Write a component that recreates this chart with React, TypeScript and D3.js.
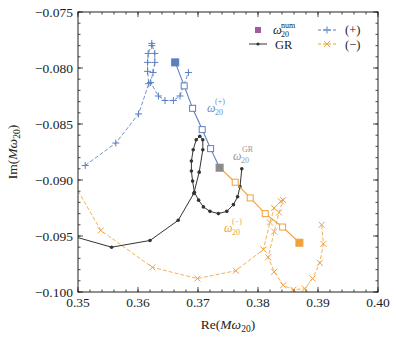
import * as d3 from 'd3';

// axes
const reDomain = [0.35, 0.4];
const imDomain = [-0.1, -0.075];
const xTicks = [0.35, 0.36, 0.37, 0.38, 0.39, 0.4];
const yTicks = [-0.1, -0.095, -0.09, -0.085, -0.08, -0.075];

// GR spiral
const grRe = [0.3497, 0.3556, 0.362, 0.3667, 0.3693, 0.3702, 0.3708, 0.3708, 0.3703, 0.3697, 0.3692, 0.3689, 0.3689, 0.3691, 0.3694, 0.3701, 0.3709, 0.372, 0.3734, 0.3748, 0.3759, 0.3766, 0.377, 0.3773];
const grIm = [-0.0951, -0.096, -0.0954, -0.0936, -0.0912, -0.0893, -0.0873, -0.0864, -0.0861, -0.0864, -0.0873, -0.0883, -0.0892, -0.0901, -0.0911, -0.0918, -0.0924, -0.0928, -0.093, -0.0928, -0.0922, -0.0915, -0.0906, -0.089];

// (+) branch
const plusRe = [0.3512, 0.3563, 0.3601, 0.3618, 0.3616, 0.3616, 0.3617, 0.3623, 0.3623, 0.3628, 0.3628, 0.3625, 0.3621, 0.3634, 0.3645, 0.3659, 0.367, 0.3684];
const plusIm = [-0.0887, -0.0867, -0.0841, -0.0814, -0.0803, -0.0795, -0.0787, -0.078, -0.0778, -0.0787, -0.0795, -0.0804, -0.0813, -0.0825, -0.0829, -0.0829, -0.0825, -0.0804];

// (-) branch
const minusRe = [0.3495, 0.3538, 0.3624, 0.3699, 0.3763, 0.3809, 0.382, 0.3827, 0.3838, 0.3842, 0.3835, 0.3827, 0.3817, 0.3827, 0.3842, 0.3859, 0.3878, 0.3891, 0.3903, 0.3909, 0.3906];
const minusIm = [-0.0905, -0.0945, -0.0978, -0.0988, -0.0981, -0.0962, -0.0938, -0.0925, -0.0919, -0.0918, -0.0929, -0.0946, -0.0969, -0.0982, -0.0994, -0.0998, -0.0997, -0.0988, -0.0974, -0.0957, -0.094];

// interpolated omega_20 between num(+) -> GR -> num(-)
const omPlusRe = [0.3662, 0.3677, 0.3691, 0.3707, 0.3721, 0.3736];
const omPlusIm = [-0.0795, -0.0816, -0.0836, -0.0855, -0.0872, -0.0889];
const omMinusRe = [0.3736, 0.3762, 0.3787, 0.3812, 0.3841, 0.3869];
const omMinusIm = [-0.0889, -0.0902, -0.0916, -0.093, -0.0942, -0.0956];

const relErrors = [0.01, 0.02];

const W = 396;
const H = 338;
const m = { top: 12, right: 18, bottom: 46, left: 78 };
const font = 'Liberation Serif, DejaVu Serif, serif';

const blue = '#5a7fc1';
const orange = '#eea23a';
const gray = '#8a8a8a';
const purple = '#a05aa3';
const black = '#333333';

const plusPath = 'M-3.5,0H3.5M0,-3.5V3.5';
const crossPath = 'M-3,-3L3,3M-3,3L3,-3';

export default function App() {
  const x = d3.scaleLinear().domain(reDomain).range([m.left, W - m.right]);
  const y = d3.scaleLinear().domain(imDomain).range([H - m.bottom, m.top]);
  const line = d3.line<[number, number]>().x((d) => x(d[0])).y((d) => y(d[1]));

  const gr = grRe.map((r, i) => [r, grIm[i]] as [number, number]);
  const plus = plusRe.map((r, i) => [r, plusIm[i]] as [number, number]);
  const minus = minusRe.map((r, i) => [r, minusIm[i]] as [number, number]);
  const omPlus = omPlusRe.map((r, i) => [r, omPlusIm[i]] as [number, number]);
  const omMinus = omMinusRe.map((r, i) => [r, omMinusIm[i]] as [number, number]);

  const nums = [
    { p: omPlus[0], c: blue },
    { p: omPlus[omPlus.length - 1], c: gray },
    { p: omMinus[omMinus.length - 1], c: orange },
  ];

  const xMinor = d3.range(0.35, 0.4001, 0.002);
  const yMinor = d3.range(-0.1, -0.07499, 0.001);
  const x0 = m.left, x1 = W - m.right, y0 = m.top, y1 = H - m.bottom;

  const sq = (p: [number, number], s: number, fill: string, stroke: string, key: string) => (
    <rect key={key} x={x(p[0]) - s / 2} y={y(p[1]) - s / 2} width={s} height={s} fill={fill} stroke={stroke} strokeWidth={1} />
  );

  return (
    <svg width={W} height={H} style={{ position: 'absolute', left: 0, top: 0 }} fontFamily={font}>
      <defs>
        <clipPath id="plot">
          <rect x={x0} y={y0} width={x1 - x0} height={y1 - y0} />
        </clipPath>
      </defs>
      <rect width={W} height={H} fill="white" />

      <g clipPath="url(#plot)">
        {/* error boxes */}
        {nums.map((n, i) =>
          relErrors.map((e) => (
            <rect
              key={`box${i}${e}`}
              x={x(n.p[0] * (1 - e))}
              y={y(n.p[1] * (1 + e))}
              width={x(n.p[0] * (1 + e)) - x(n.p[0] * (1 - e))}
              height={y(n.p[1] * (1 - e)) - y(n.p[1] * (1 + e))}
              fill="none"
              stroke="#777"
              strokeWidth={0.8}
              strokeDasharray="1.2,1.2"
            />
          ))
        )}

        <path d={line(plus)!} fill="none" stroke={blue} strokeWidth={1} strokeDasharray="4,2" opacity={0.85} />
        {plus.map((p, i) => (
          <path key={`pl${i}`} d={plusPath} transform={`translate(${x(p[0])},${y(p[1])})`} stroke={blue} strokeWidth={1} />
        ))}

        <path d={line(minus)!} fill="none" stroke={orange} strokeWidth={1} strokeDasharray="4,2" opacity={0.85} />
        {minus.map((p, i) => (
          <path key={`mi${i}`} d={crossPath} transform={`translate(${x(p[0])},${y(p[1])})`} stroke={orange} strokeWidth={1} />
        ))}

        <path d={line(gr)!} fill="none" stroke={black} strokeWidth={1} />
        {gr.map((p, i) => (
          <circle key={`gr${i}`} cx={x(p[0])} cy={y(p[1])} r={1.8} fill={black} />
        ))}

        <path d={line(omPlus)!} fill="none" stroke={blue} strokeWidth={1.1} />
        <path d={line(omMinus)!} fill="none" stroke={orange} strokeWidth={1.1} />
        {omPlus.slice(1, -1).map((p, i) => sq(p, 6, 'white', blue, `op${i}`))}
        {omMinus.slice(1, -1).map((p, i) => sq(p, 6, 'white', orange, `om${i}`))}
        {nums.map((n, i) => sq(n.p, 7, n.c, n.c, `num${i}`))}
      </g>

      {/* frame and ticks */}
      <rect x={x0} y={y0} width={x1 - x0} height={y1 - y0} fill="none" stroke="#222" strokeWidth={1} />
      {xMinor.map((t, i) => (
        <g key={`xm${i}`} stroke="#222" strokeWidth={0.8}>
          <line x1={x(t)} x2={x(t)} y1={y1} y2={y1 - 2.5} />
          <line x1={x(t)} x2={x(t)} y1={y0} y2={y0 + 2.5} />
        </g>
      ))}
      {yMinor.map((t, i) => (
        <g key={`ym${i}`} stroke="#222" strokeWidth={0.8}>
          <line x1={x0} x2={x0 + 2.5} y1={y(t)} y2={y(t)} />
          <line x1={x1} x2={x1 - 2.5} y1={y(t)} y2={y(t)} />
        </g>
      ))}
      {xTicks.map((t) => (
        <g key={`xt${t}`}>
          <line x1={x(t)} x2={x(t)} y1={y1} y2={y1 - 5} stroke="#222" strokeWidth={0.8} />
          <line x1={x(t)} x2={x(t)} y1={y0} y2={y0 + 5} stroke="#222" strokeWidth={0.8} />
          <text x={x(t)} y={y1 + 15} textAnchor="middle" fontSize={13.5} fill="#222">
            {d3.format('.2f')(t)}
          </text>
        </g>
      ))}
      {yTicks.map((t) => (
        <g key={`yt${t}`}>
          <line x1={x0} x2={x0 + 5} y1={y(t)} y2={y(t)} stroke="#222" strokeWidth={0.8} />
          <line x1={x1} x2={x1 - 5} y1={y(t)} y2={y(t)} stroke="#222" strokeWidth={0.8} />
          <text x={x0 - 5} y={y(t) + 4.5} textAnchor="end" fontSize={13.5} fill="#222">
            {d3.format('.3f')(t).replace('-', '\u2212')}
          </text>
        </g>
      ))}

      {/* axis labels */}
      <text x={(x0 + x1) / 2} y={329} textAnchor="middle" fontSize={13.5} fill="#222">
        Re(<tspan fontStyle="italic">Mω</tspan>
        <tspan fontSize={9.5} dy={3}>20</tspan>
        <tspan dy={-3}>)</tspan>
      </text>
      <text transform={`translate(17,${(y0 + y1) / 2}) rotate(-90)`} textAnchor="middle" fontSize={13.5} fill="#222">
        Im(<tspan fontStyle="italic">Mω</tspan>
        <tspan fontSize={9.5} dy={3}>20</tspan>
        <tspan dy={-3}>)</tspan>
      </text>

      {/* inline labels */}
      <g fontSize={12} fill={blue} opacity={0.9}>
        <text x={207} y={112} fontStyle="italic">ω</text>
        <text x={215} y={115} fontSize={8}>20</text>
        <text x={215} y={104} fontSize={8}>(+)</text>
      </g>
      <g fontSize={12} fill="#999">
        <text x={233} y={160} fontStyle="italic">ω</text>
        <text x={241} y={163} fontSize={8}>20</text>
        <text x={242} y={152} fontSize={8}>GR</text>
      </g>
      <g fontSize={12} fill={orange}>
        <text x={224} y={232} fontStyle="italic">ω</text>
        <text x={232} y={235} fontSize={8}>20</text>
        <text x={232} y={224} fontSize={8}>(−)</text>
      </g>

      {/* legend */}
      <g fontSize={12.5}>
        <rect x={255} y={27} width={6} height={6} fill={purple} />
        <text x={273} y={34} fontStyle="italic" fill="#222">ω</text>
        <text x={281} y={37} fontSize={8} fill="#222">20</text>
        <text x={281} y={28} fontSize={8} fill="#222">num</text>
        <line x1={249} x2={267} y1={44} y2={44} stroke={black} strokeWidth={1} />
        <circle cx={258} cy={44} r={1.6} fill={black} />
        <text x={275} y={48.5} fill="#222">GR</text>

        <line x1={318} x2={336} y1={30} y2={30} stroke={blue} strokeWidth={1} strokeDasharray="3,2" />
        <path d={plusPath} transform="translate(327,30)" stroke={blue} strokeWidth={1} />
        <text x={345} y={34} fill="#222">(+)</text>
        <line x1={318} x2={336} y1={44} y2={44} stroke={orange} strokeWidth={1} strokeDasharray="3,2" />
        <path d={crossPath} transform="translate(327,44)" stroke={orange} strokeWidth={1} />
        <text x={345} y={48.5} fill="#222">(−)</text>
      </g>
    </svg>
  );
}
